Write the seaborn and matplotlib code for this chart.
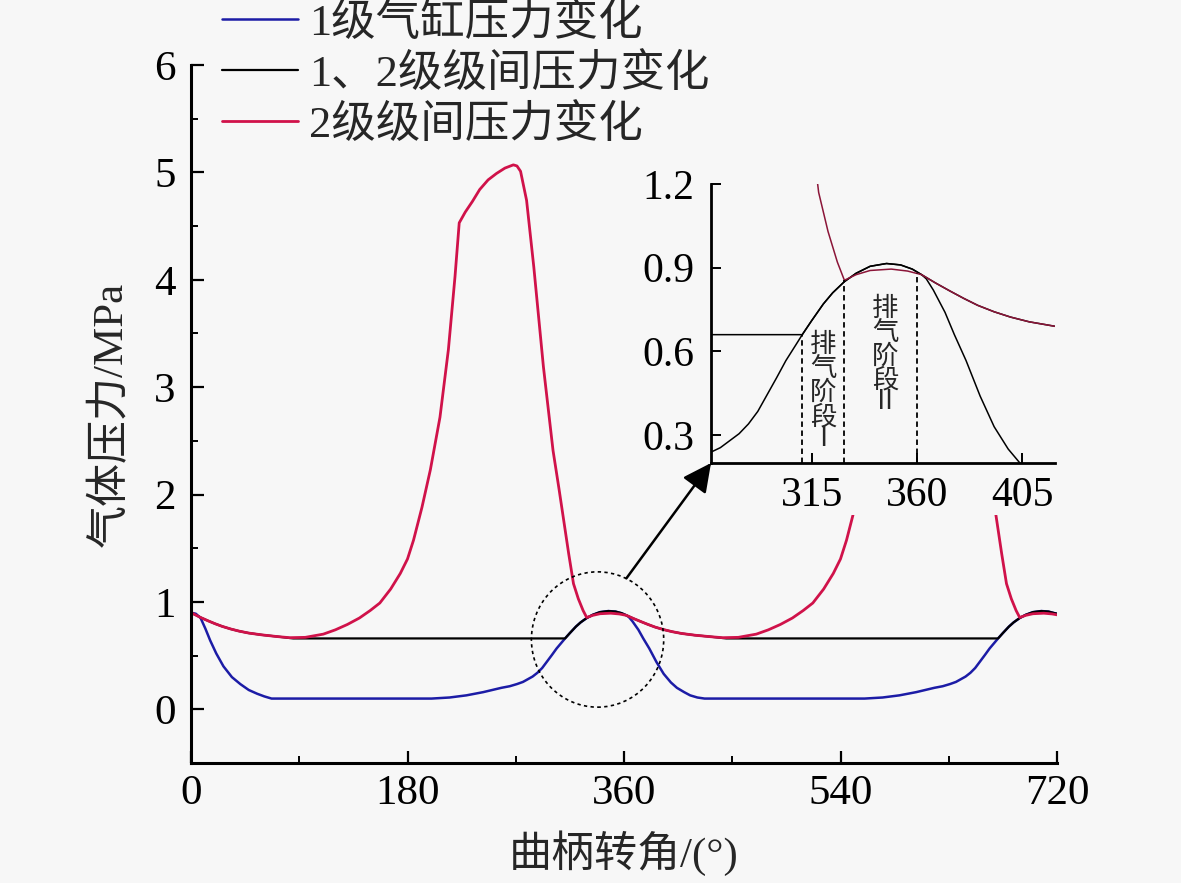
import matplotlib
matplotlib.use('Agg')
import matplotlib.pyplot as plt
import seaborn as sns
from matplotlib.patches import Ellipse, Rectangle
from matplotlib.ticker import MultipleLocator, FormatStrFormatter

# crank angle (deg) / pressure (MPa)
angle_s1 = [0, 4, 8, 12, 16, 21, 27, 34, 41, 48, 55, 61, 67, 100, 150, 200, 215, 229, 243, 258,
            265, 271, 276, 280, 284, 288, 292, 296, 300, 304, 308, 311, 315, 320, 324, 329, 334, 340,
            347, 353, 358, 362, 364, 367, 372, 376, 381, 387, 393, 399, 404, 410, 415, 421, 427, 460,
            510, 560, 575, 589, 603, 618, 625, 631, 636, 640, 644, 648, 652, 656, 660, 664, 668, 671,
            675, 680, 684, 689, 694, 700, 707, 713, 718, 720]
p_s1 = [0.90, 0.89, 0.85, 0.75, 0.64, 0.52, 0.40, 0.30, 0.235, 0.18, 0.145, 0.12, 0.10, 0.10, 0.10,
        0.10, 0.11, 0.13, 0.16, 0.20, 0.215, 0.235, 0.255, 0.28, 0.305, 0.34, 0.385, 0.445, 0.505,
        0.567, 0.62, 0.66, 0.71, 0.77, 0.81, 0.85, 0.88, 0.905, 0.915, 0.91, 0.895, 0.875, 0.86,
        0.82, 0.74, 0.66, 0.567, 0.44, 0.33, 0.25, 0.20, 0.16, 0.13, 0.11, 0.10, 0.10, 0.10, 0.10,
        0.11, 0.13, 0.16, 0.20, 0.215, 0.235, 0.255, 0.28, 0.305, 0.34, 0.385, 0.445, 0.505, 0.567,
        0.62, 0.66, 0.71, 0.77, 0.81, 0.85, 0.88, 0.905, 0.915, 0.91, 0.895, 0.89]

angle_s12 = [0, 8, 14, 20, 26, 33, 40, 48, 59, 72, 85, 311, 315, 320, 324, 329, 334, 340, 347, 353,
             358, 362, 368, 374, 380, 386, 393, 400, 408, 419, 432, 445, 671, 675, 680, 684, 689, 694,
             700, 707, 713, 718, 720]
p_s12 = [0.90, 0.855, 0.825, 0.797, 0.772, 0.748, 0.728, 0.71, 0.693, 0.677, 0.66, 0.66, 0.71,
         0.77, 0.81, 0.85, 0.88, 0.905, 0.915, 0.91, 0.895, 0.875, 0.845, 0.817, 0.79, 0.765, 0.742,
         0.723, 0.706, 0.69, 0.676, 0.66, 0.66, 0.71, 0.77, 0.81, 0.85, 0.88, 0.905, 0.915, 0.91,
         0.895, 0.89]

angle_s2 = [0, 8, 14, 20, 26, 33, 40, 48, 59, 72, 82, 95, 110, 120, 130, 140, 149, 157, 166, 174,
            180, 185, 192, 199, 207, 214, 219.5, 223, 228, 234, 240, 247, 254, 261, 268, 271, 274,
            279, 285, 293, 301, 306, 310, 314, 318, 322, 326, 329, 334, 340, 349, 356, 362, 368, 374,
            380, 386, 393, 400, 408, 419, 432, 442, 455, 470, 480, 490, 500, 509, 517, 526, 534, 540,
            545, 552, 559, 567, 574, 579.5, 583, 588, 594, 600, 607, 614, 621, 628, 631, 634, 639,
            645, 653, 661, 666, 670, 674, 678, 682, 686, 689, 694, 700, 709, 716, 720]
p_s2 = [0.90, 0.855, 0.825, 0.797, 0.772, 0.748, 0.728, 0.71, 0.693, 0.677, 0.667, 0.67, 0.70, 0.74,
        0.79, 0.85, 0.92, 0.99, 1.12, 1.265, 1.40, 1.575, 1.88, 2.23, 2.72, 3.35, 4.03, 4.53, 4.63,
        4.73, 4.84, 4.93, 4.99, 5.04, 5.07, 5.06, 5.01, 4.74, 4.12, 3.19, 2.41, 2.05, 1.75, 1.45,
        1.17, 1.03, 0.92, 0.855, 0.875, 0.89, 0.895, 0.888, 0.875, 0.845, 0.817, 0.79, 0.765, 0.742,
        0.723, 0.706, 0.69, 0.676, 0.667, 0.67, 0.70, 0.74, 0.79, 0.85, 0.92, 0.99, 1.12, 1.265,
        1.40, 1.575, 1.88, 2.23, 2.72, 3.35, 4.03, 4.53, 4.63, 4.73, 4.84, 4.93, 4.99, 5.04, 5.07,
        5.06, 5.01, 4.74, 4.12, 3.19, 2.41, 2.05, 1.75, 1.45, 1.17, 1.03, 0.92, 0.855, 0.875, 0.89,
        0.895, 0.888, 0.88]

labels = ['1级气缸压力变化', '1、2级级间压力变化', '2级级间压力变化']
colors = ['#1c1ca6', '#000000', '#d0124a']

# discharge stage boundaries in the inset (deg) and where the dashed lines stop
stage_angle = [311, 329, 360]
stage_top = [0.66, 0.855, 0.88]

bg = '#f7f7f7'
sns.set_theme(style='ticks')
plt.rcParams['font.family'] = ['Liberation Serif', 'Noto Sans CJK SC']
plt.rcParams['axes.unicode_minus'] = False

fig = plt.figure(figsize=(11.81, 8.83), dpi=100, facecolor=bg)
ax = fig.add_axes([191 / 1181, 1 - 763 / 883, 866 / 1181, 698 / 883])
ax.set_facecolor(bg)

series = [(angle_s1, p_s1), (angle_s12, p_s12), (angle_s2, p_s2)]
for (xs, ys), lab, c, lw in zip(series, labels, colors, [1.8, 1.6, 2.0]):
    sns.lineplot(x=xs, y=ys, ax=ax, color=c, lw=lw, label=lab, estimator=None)

ax.set_xlim(0, 720)
ax.set_ylim(-0.5, 6)
ax.set_xticks([0, 180, 360, 540, 720])
ax.xaxis.set_minor_locator(MultipleLocator(90))
ax.set_yticks(range(0, 7))
ax.yaxis.set_minor_locator(MultipleLocator(0.5))
sns.despine(ax=ax)
for s in ['left', 'bottom']:
    ax.spines[s].set_linewidth(2.2)
    ax.spines[s].set_color('black')
ax.tick_params(which='major', direction='in', length=9, width=1.6, labelsize=31, colors='black')
ax.tick_params(which='minor', direction='in', length=5, width=1.4, colors='black')
ax.tick_params(axis='x', pad=8)
ax.tick_params(axis='y', pad=11)

ax.set_xlabel('曲柄转角/(°)', fontsize=31, va='center')
ax.set_ylabel('气体压力/MPa', fontsize=31, va='center')
ax.xaxis.set_label_coords(0.5, -0.129)
ax.yaxis.set_label_coords(-0.0924, 0.5)

ax.legend(loc='upper left', bbox_to_anchor=(222 / 1181, 1 - 2 / 883), bbox_transform=fig.transFigure,
          frameon=False, fontsize=32, handlelength=1.7, handletextpad=0.25, labelspacing=0.2,
          borderpad=0, borderaxespad=0)

# dotted ellipse around the discharge hump
ax.add_patch(Ellipse((338, 0.65), 110, 1.26, fill=False, ls=(0, (2, 2)), lw=1.2, color='black', zorder=5))

# blank area behind the inset
fig.add_artist(Rectangle((700 / 1181, 1 - 515 / 883), 370 / 1181, 380 / 883,
                         transform=fig.transFigure, facecolor=bg, edgecolor='none', zorder=1))

# inset
axins = fig.add_axes([711 / 1181, 1 - 463 / 883, 344 / 1181, 279 / 883], zorder=2)
axins.patch.set_alpha(0)
inset_colors = ['black', 'black', '#8b1538']
for (xs, ys), c in zip(series, inset_colors):
    sns.lineplot(x=xs, y=ys, ax=axins, color=c, lw=1.1, estimator=None, legend=False)
axins.set_xlim(272, 419)
axins.set_ylim(0.2, 1.2)
axins.set_xticks([315, 360, 405])
axins.set_yticks([0.3, 0.6, 0.9, 1.2])
axins.yaxis.set_major_formatter(FormatStrFormatter('%.1f'))
sns.despine(ax=axins)
for s in ['left', 'bottom']:
    axins.spines[s].set_linewidth(2.0)
    axins.spines[s].set_color('black')
axins.tick_params(direction='in', length=7, width=1.4, labelsize=30, colors='black')
axins.tick_params(axis='x', pad=10)
axins.tick_params(axis='y', pad=12)
axins.set_xlabel('')
axins.set_ylabel('')

axins.vlines(stage_angle, 0.2, stage_top, colors='black', linestyles=(0, (3, 2)), lw=1.3)
axins.text(320, 0.455, '排\n气\n阶\n段\nⅠ', ha='center', va='center', fontsize=19, linespacing=0.98)
axins.text(346.4, 0.585, '排\n气\n阶\n段\nⅡ', ha='center', va='center', fontsize=19, linespacing=0.98)

axins.annotate('', xy=(0, 0), xycoords='axes fraction', xytext=(362, 1.22), textcoords=ax.transData,
               arrowprops=dict(arrowstyle='-|>,head_length=0.7,head_width=0.35', mutation_scale=25,
                               color='black', lw=1.8, shrinkA=0, shrinkB=0))

fig.savefig('out.png', dpi=100, facecolor=bg)
